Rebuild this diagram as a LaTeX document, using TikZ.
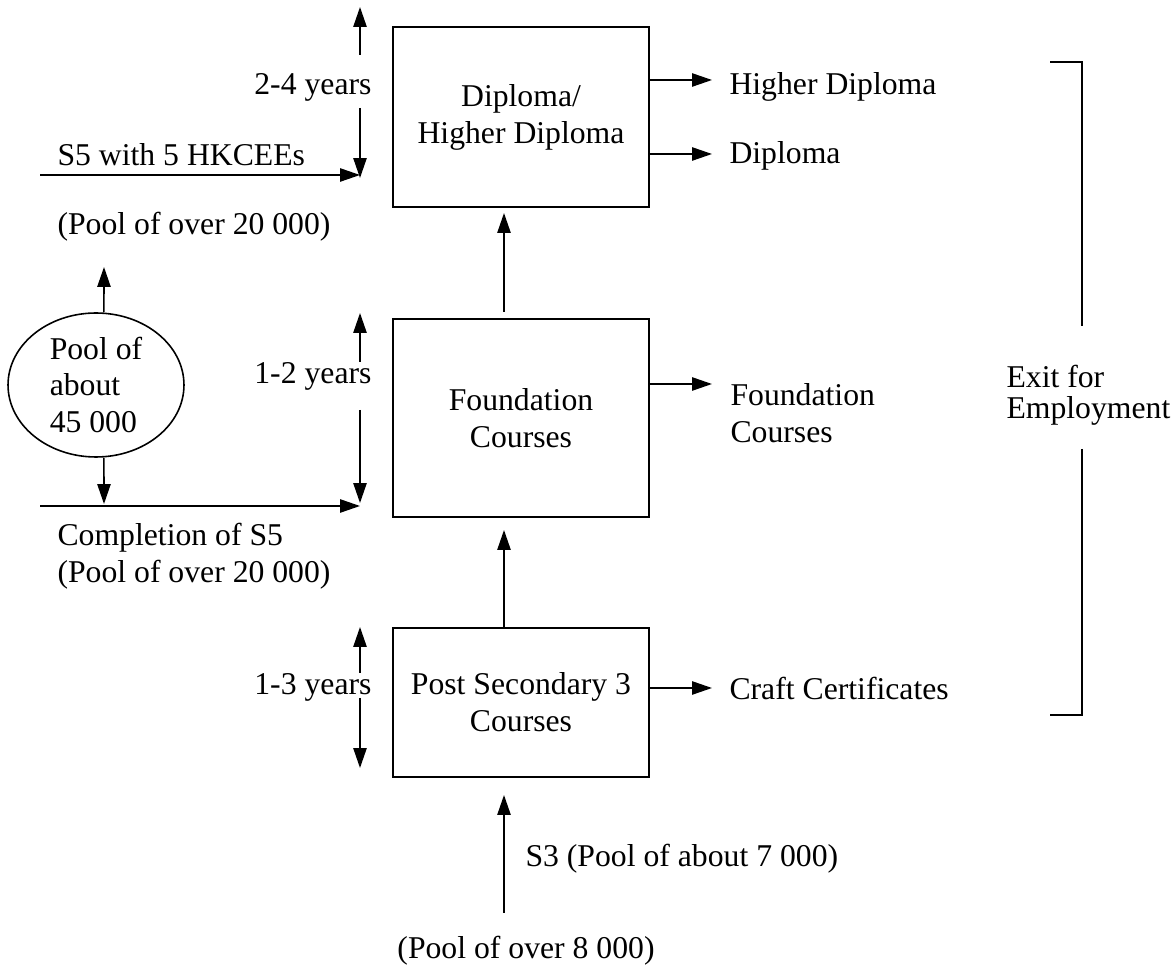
\documentclass[tikz,border=0pt]{standalone}
\usepackage{fontspec}
\setmainfont{Liberation Serif}
\usetikzlibrary{arrows.meta,shapes.geometric}

\begin{document}
\begin{tikzpicture}[x=0.3785pt,y=-0.3785pt,
    font=\fontsize{12}{14}\selectfont,
    arr/.style={-{Triangle[length=7.5pt,width=5pt]},line width=0.6pt},
    course/.style={draw,line width=1pt,minimum width=96.9pt,align=center,inner sep=0pt},
    lab/.style={inner sep=0pt,align=left}]
    \useasboundingbox (0,0) rectangle (1175,968);

    % --- course boxes
    \node[course,minimum height=68.1pt] (dip)   at (521,117)   {Diploma/\\Higher Diploma};
    \node[course,minimum height=74.9pt] (found) at (521,418)   {Foundation\\Courses};
    \node[course,minimum height=56.4pt] (ps)    at (521,702.5) {Post Secondary 3\\Courses};

    % --- progression upwards
    \coordinate (up1) at (504,213);
    \coordinate (up2) at (504,530);
    \coordinate (s3in) at (504,913);
    \coordinate (s3to) at (504,795);
    \draw[arr,shorten <=2.2pt] (up1 |- found.north) -- (up1);
    \draw[arr] (up2 |- ps.north) -- (up2);
    \draw[arr] (s3in) -- (s3to);
    \node[lab,anchor=base west] (s3) at (525,867) {S3 (Pool of about 7 000)};
    \node[lab,anchor=base] (s3pool) at (526,958) {(Pool of over 8 000)};

    % --- duration arrows
    \foreach \nm/\ytop/\yup/\ydn/\ybot/\ylab/\txt in {y24/7/55/108/178/95/2-4 years,
        y12/313/362/410/503/384/1-2 years,y13/627/673/698/768/695/1-3 years}{
      \coordinate (\nm-t) at (360,\ytop);
      \coordinate (\nm-u) at (360,\yup);
      \coordinate (\nm-d) at (360,\ydn);
      \coordinate (\nm-b) at (360,\ybot);
      \draw[arr] (\nm-u) -- (\nm-t);
      \draw[arr] (\nm-d) -- (\nm-b);
      \node[lab,anchor=base east] (\nm) at (372,\ylab) {\txt};
    }

    % --- S5 entries
    \coordinate (s5in) at (40,175);
    \coordinate (s5to) at (360,175);
    \draw[arr] (s5in) -- (s5to);
    \node[lab,anchor=base west] (hkcee) at (57,166) {S5 with 5 HKCEEs};
    \node[lab,anchor=base west] (hkpool) at (57,235) {(Pool of over 20 000)};

    \coordinate (cmin) at (40,506);
    \coordinate (cmto) at (360,506);
    \draw[arr] (cmin) -- (cmto);
    \node[lab,anchor=west] (compl) at (57,556) {Completion of S5\\(Pool of over 20 000)};

    % --- pool of S5 leavers
    \node[ellipse,draw,line width=0.6pt,minimum width=66.6pt,minimum height=54.5pt,
      inner sep=0pt,align=left] (pool) at (96,385) {Pool of\\about\\45 000};
    \coordinate (poolup) at (104,267);
    \coordinate (pooldn) at (104,504);
    \draw[arr] ([xshift=3pt]pool.north) -- (poolup);
    \draw[arr] ([xshift=3pt]pool.south) -- (pooldn);

    % --- exits
    \foreach \nm/\bx/\y in {hd/dip/80,di/dip/154,fc/found/384,cc/ps/688}{
      \coordinate (\nm-tip) at (712,\y);
      \draw[arr] (\nm-tip -| \bx.east) -- (\nm-tip);
    }
    \node[lab,anchor=base west] (hdip) at (729,95)  {Higher Diploma};
    \node[lab,anchor=base west] (ddip) at (729,164) {Diploma};
    \node[lab,anchor=west]      (fcrs) at (730,413) {Foundation\\Courses};
    \node[lab,anchor=base west] (ccrt) at (729,700) {Craft Certificates};

    % --- bracket
    \coordinate (br1) at (1050,62);
    \coordinate (br2) at (1082,326);
    \coordinate (br3) at (1082,449);
    \coordinate (br4) at (1050,715);
    \draw[line width=0.6pt] (br1) -| (br2);
    \draw[line width=0.6pt] (br3) |- (br4);
    \node[lab,anchor=west,font=\fontsize{12}{11.7}\selectfont] (exit) at (1006,395) {Exit for\\Employment};
  \end{tikzpicture}
\end{document}
